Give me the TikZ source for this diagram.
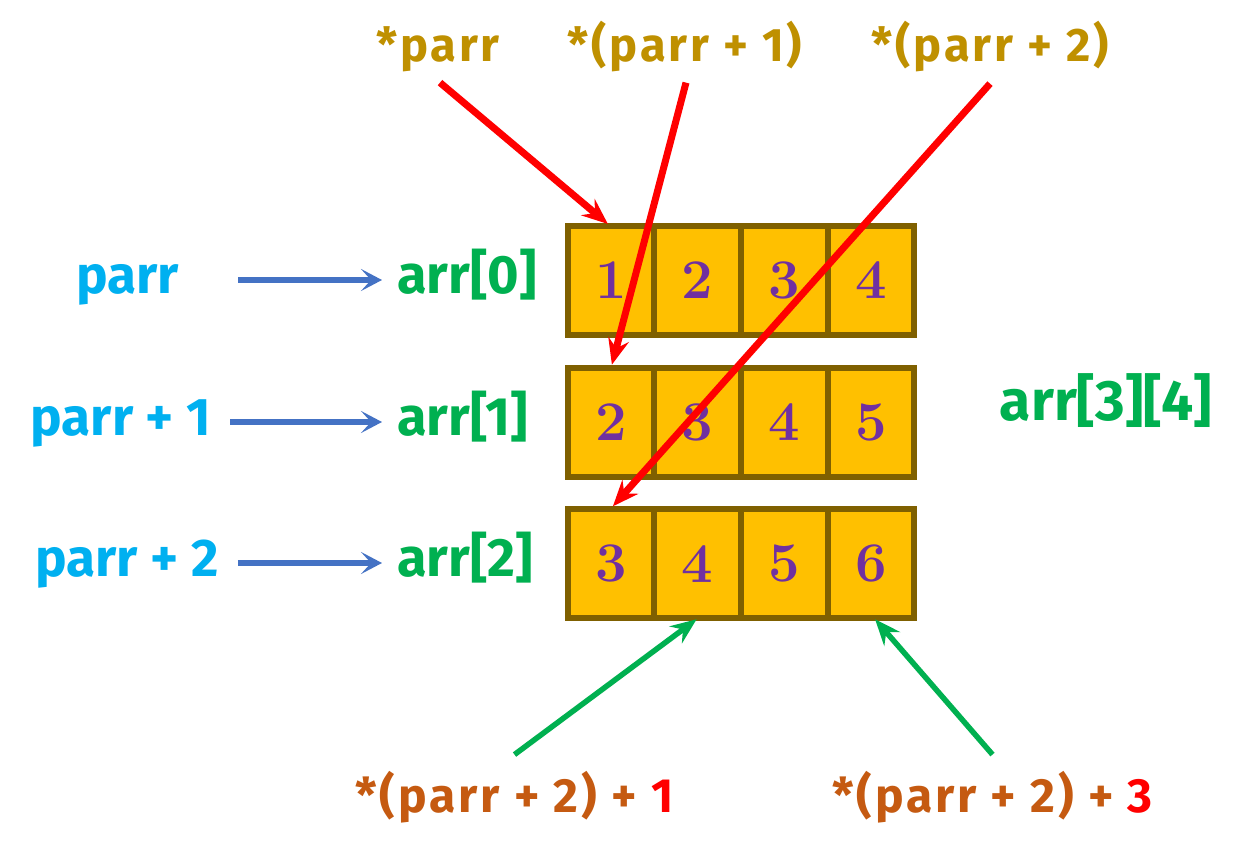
\documentclass[tikz,border=0pt]{standalone}
\usepackage{fontspec}
\usetikzlibrary{arrows.meta,calc}
\newfontfamily\lblfont{Fira Sans}
\newfontfamily\lblwide[LetterSpace=6]{Fira Sans}
\definecolor{ccyan}{HTML}{00B0F0}
\definecolor{cgreen}{HTML}{00B050}
\definecolor{cgold}{HTML}{BF9000}
\definecolor{corange}{HTML}{C55A11}
\definecolor{cred}{HTML}{FF0000}
\definecolor{cfill}{HTML}{FFC000}
\definecolor{cborder}{HTML}{7F6000}
\definecolor{cpurple}{HTML}{7030A0}
\definecolor{cblue}{HTML}{4472C4}
\tikzset{
  cell/.style={draw=cborder, fill=cfill, line width=6pt, minimum width=86.75pt,
    minimum height=109pt, inner sep=0pt, outer sep=0pt, text=cpurple,
    font=\fontsize{56}{60}\selectfont\bfseries},
  ptrlbl/.style={text=ccyan, inner sep=0pt, text height=38pt, text depth=11pt,
    font=\lblfont\fontsize{53}{60}\selectfont\bfseries},
  rowlbl/.style={text=cgreen, inner sep=0pt, anchor=west, text height=38pt, text depth=11pt,
    font=\lblfont\fontsize{54}{60}\selectfont\bfseries},
  toplbl/.style={text=cgold, inner sep=0pt, anchor=base,
    font=\lblwide\fontsize{47}{55}\selectfont\bfseries},
  botlbl/.style={text=corange, inner sep=0pt, anchor=base,
    font=\lblwide\fontsize{48}{55}\selectfont\bfseries},
  bluearr/.style={draw=cblue, line width=6pt, -{Stealth[length=21pt,width=22pt,inset=10pt]}},
  redarr/.style={draw=cred, line width=7pt, -{Stealth[length=26pt,width=21pt,inset=9pt]}},
  greenarr/.style={draw=cgreen, line width=5.5pt, -{Stealth[length=26pt,width=21pt,inset=9pt]}},
}
\begin{document}
\begin{tikzpicture}[x=1pt,y=-1pt]
\fill[white] (0,0) rectangle (1245,858);
\useasboundingbox (0,0) rectangle (1245,858);
% cells
\foreach \r/\y/\a/\b/\c/\d in {1/280.5/1/2/3/4, 2/422.2/2/3/4/5, 3/563.8/3/4/5/6}{
  \node[cell] (c\r1) at (610.9,\y) {\a};
  \node[cell] (c\r2) at (697.6,\y) {\b};
  \node[cell] (c\r3) at (784.4,\y) {\c};
  \node[cell] (c\r4) at (871.1,\y) {\d};
}
% left labels
\node[ptrlbl] (p0) at (127.5,280) {parr};
\node[ptrlbl] (p1) at (121,422) {parr + 1};
\node[ptrlbl] (p2) at (127,563) {parr + 2};
\node[rowlbl] (a0) at (397,280) {arr[0]};
\node[rowlbl] (a1) at (397,422) {arr[1]};
\node[rowlbl] (a2) at (397,563) {arr[2]};
\node[text=cgreen, inner sep=0pt, font=\lblfont\fontsize{57}{64}\selectfont\bfseries] (arr) at (1106,401) {arr[3][4]};
% top labels
\node[toplbl] (t0) at (438,62) {*parr};
\node[toplbl] (t1) at (685,62) {*(parr + 1)};
\node[toplbl] (t2) at (990,62) {*(parr + 2)};
% bottom labels
\node[botlbl] (b1) at (514.5,812) {*(parr + 2) + \textcolor{cred}{1}};
\node[botlbl] (b3) at (992.5,812) {*(parr + 2) + \textcolor{cred}{3}};
% blue arrows
\draw[bluearr, shorten <=59pt, shorten >=15pt] (p0.east) -- (a0.west);
\draw[bluearr, shorten <=19pt, shorten >=15pt] (p1.east) -- (a1.west);
\draw[bluearr, shorten <=19pt, shorten >=15pt] (p2.east) -- (a2.west);
% red arrows
\draw[redarr] ($(t0.south)+(2,10)$) -- ($(c11.north)+(-3,-2)$);
\draw[redarr] ($(t1.south)+(1,10)$) -- ($(c21.north)+(1,-3)$);
\draw[redarr] ($(t2.south)+(0,11)$) -- ($(c31.north)+(2,-3)$);
% green arrows
\draw[greenarr] ($(b1.north)+(0,-16)$) -- ($(c32.south)+(-1,1)$);
\draw[greenarr] ($(b3.north)+(0,-16)$) -- ($(c34.south)+(4,1)$);
\end{tikzpicture}
\end{document}
